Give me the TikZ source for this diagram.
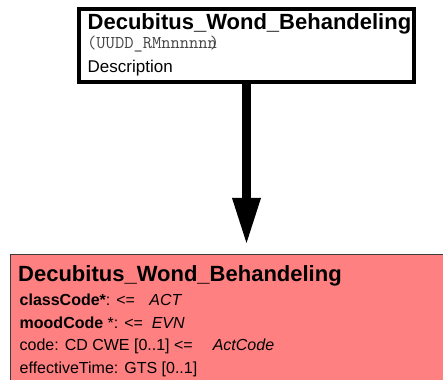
\documentclass[tikz,border=0pt]{standalone}
\usepackage{fontspec}
\setmainfont{Liberation Sans}
\usetikzlibrary{arrows.meta}
\definecolor{actfill}{RGB}{255,128,128}
\definecolor{actborder}{RGB}{60,60,60}
\definecolor{idgray}{RGB}{70,70,70}
\begin{document}
\begin{tikzpicture}[x=1pt,y=1pt,
  hdrbox/.style={draw=black, line width=4.5pt, fill=white, minimum width=335pt, minimum height=73pt, inner sep=0pt},
  actbox/.style={draw=actborder, line width=1pt, fill=actfill, minimum width=460pt, minimum height=150pt, inner sep=0pt, anchor=north west},
  titletext/.style={inner sep=0pt, anchor=base west, font=\fontsize{22}{26}\selectfont\bfseries},
  idtext/.style={inner sep=0pt, anchor=base west, text=idgray, font=\fontsize{18}{21}\selectfont\ttfamily},
  desctext/.style={inner sep=0pt, anchor=base west, font=\fontsize{17}{20}\selectfont},
  attrtext/.style={inner sep=0pt, anchor=base west, font=\fontsize{16}{19}\selectfont},
  link/.style={line width=9.5pt, -{Triangle[width=29pt,length=45pt,line width=0pt]}, shorten >=11pt}
]
\useasboundingbox (0,0) rectangle (443,379);
% target class
\node[actbox] (act) at (10,125) {};
\node[titletext] (acttitle) at (18,97.3) {Decubitus\_Wond\_Behandeling};
\node[attrtext] (a1) at (19.5,73) {\textbf{classCode*}: <=\hspace{0.9em}\textit{ACT}};
\node[attrtext] (a2) at (19.5,50.5) {\textbf{moodCode} *: <=\hspace{0.55em}\textit{EVN}};
\node[attrtext] (a3) at (19.5,28) {code: CD CWE [0..1] <=\hspace{1.25em}\textit{ActCode}};
\node[attrtext] (a4) at (19.5,5.5) {effectiveTime: GTS [0..1]};
% header box
\node[hdrbox] (hdr) at (246.5,333.5) {};
\node[titletext] (hdrtitle) at (87.5,349) {Decubitus\_Wond\_Behandeling};
\node[idtext] (hdrid) at (87,330.5) {(UUDD\_RMnnnnnn\kern-0.4em)};
\node[desctext] (hdrdesc) at (87.5,306) {Description};
% connector
\draw[link] (hdr.south) -- (hdr.south |- act.north);
\end{tikzpicture}
\end{document}
